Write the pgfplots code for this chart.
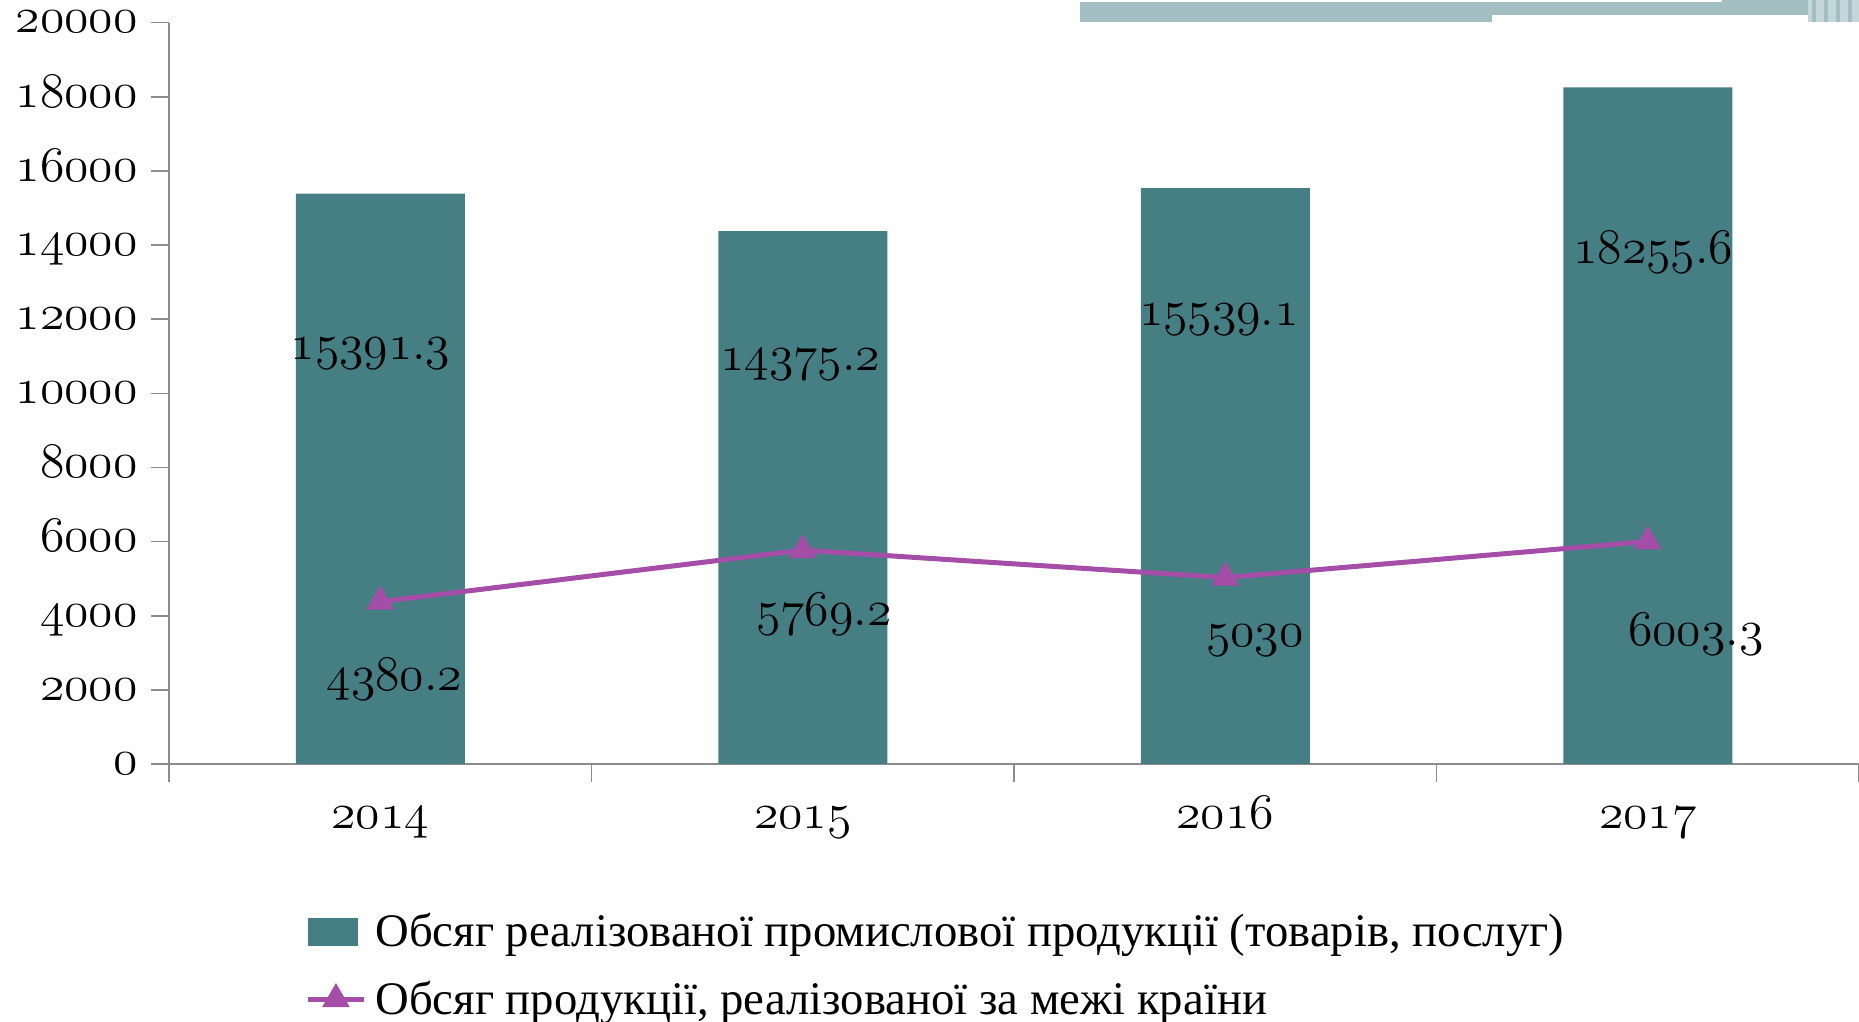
\documentclass[border=0pt]{standalone}
\usepackage{pgfplots}
\pgfplotsset{compat=1.18}
\usepackage{fontspec}
\setmainfont{Liberation Serif}
\newcommand\osn[1]{{\usefont{OML}{lmm}{m}{it}#1}}
\newcommand\pd{\char58\relax}
\definecolor{barc}{RGB}{69,126,131}
\definecolor{linec}{RGB}{165,78,168}
\definecolor{deco}{RGB}{162,190,195}
\definecolor{decol}{RGB}{196,214,217}
\definecolor{axc}{RGB}{140,140,140}
\begin{document}
\begin{tikzpicture}
\useasboundingbox (0pt,0pt) rectangle (929.5pt,511pt);
% slide decoration at top right
\fill[deco] (540pt,510pt) rectangle (746pt,500pt);
\fill[deco] (746pt,510pt) rectangle (861pt,503.5pt);
\fill[deco] (861pt,511pt) rectangle (904pt,503.5pt);
\fill[decol] (904pt,511pt) rectangle (929.5pt,500pt);
\foreach \xx in {906,912,918,924}{\fill[deco] (\xx pt,511pt) rectangle (\xx pt+2pt,500pt);}
\begin{axis}[
  at={(84.5pt,129pt)}, anchor=south west,
  scale only axis, width=845pt, height=370.65pt,
  xmin=-0.5, xmax=3.5, ymin=0, ymax=20000,
  scaled y ticks=false,
  axis lines*=left, axis line style={-, draw=axc, line width=0.8pt},
  tick align=outside, major tick length=9pt, minor tick length=9pt,
  xtick={0,1,2,3},
  xticklabels={\osn{2014},\osn{2015},\osn{2016},\osn{2017}},
  minor xtick={-0.5,0.5,1.5,2.5,3.5},
  major x tick style={draw=none},
  minor x tick style={draw=axc, line width=0.8pt},
  major y tick style={draw=axc, line width=0.8pt},
  ytick={0,2000,4000,6000,8000,10000,12000,14000,16000,18000,20000},
  yticklabels={\osn{0},\osn{2000},\osn{4000},\osn{6000},\osn{8000},\osn{10000},\osn{12000},\osn{14000},\osn{16000},\osn{18000},\osn{20000}},
  yticklabel style={font=\fontsize{24}{28}\selectfont, inner sep=0pt, xshift=-6.5pt, text height=10.3pt, text depth=0pt},
  xticklabel style={font=\fontsize{23}{28}\selectfont, inner sep=0pt, yshift=-6.9pt, text height=16pt, text depth=5pt},
  clip=false,
  legend style={at={(axis description cs:0.0805,-0.201)}, anchor=north west,
    draw=none, fill=none, inner sep=0pt, row sep=15.5pt, column sep=4.5pt,
    nodes={inner sep=0pt},
    font=\fontsize{23.35}{27}\selectfont},
  legend cell align=left,
]
\addplot[ybar, bar width=0.4, bar shift=0pt, fill=barc, draw=none,
  legend image code/.code={\fill[barc] (0pt,-7pt) rectangle (25pt,7pt);}]
  coordinates {(0,15391.3) (1,14375.2) (2,15539.1) (3,18255.6)};
\addlegendentry{Обсяг реалізованої промислової продукції (товарів, послуг)}
\addplot[linec, line width=2.5pt, mark=triangle*, mark size=5.5pt, mark options={solid},
  legend image code/.code={\draw[linec,line width=2.5pt,mark=triangle*,mark size=5.5pt,mark repeat=2,mark phase=2] plot coordinates {(0pt,0pt) (14pt,0pt) (28pt,0pt)};}]
  coordinates {(0,4380.2) (1,5769.2) (2,5030) (3,6003.3)};
\addlegendentry{Обсяг продукції, реалізованої за межі країни}
\begin{scope}[every node/.style={font=\fontsize{23.5}{28}\selectfont, inner sep=0pt}]
\node at (axis cs:-0.023,11085) {\osn{15391\pd 3}};
\node at (axis cs:0.994,10764) {\osn{14375\pd 2}};
\node at (axis cs:1.985,11981) {\osn{15539\pd 1}};
\node at (axis cs:3.013,13806) {\osn{18255\pd 6}};
\node at (axis cs:0.034,2286) {\osn{4380\pd 2}};
\node at (axis cs:1.05,4046) {\osn{5769\pd 2}};
\node at (axis cs:2.07,3341) {\osn{5030}};
\node at (axis cs:3.114,3501) {\osn{6003\pd 3}};
\end{scope}
\end{axis}
\end{tikzpicture}
\end{document}
